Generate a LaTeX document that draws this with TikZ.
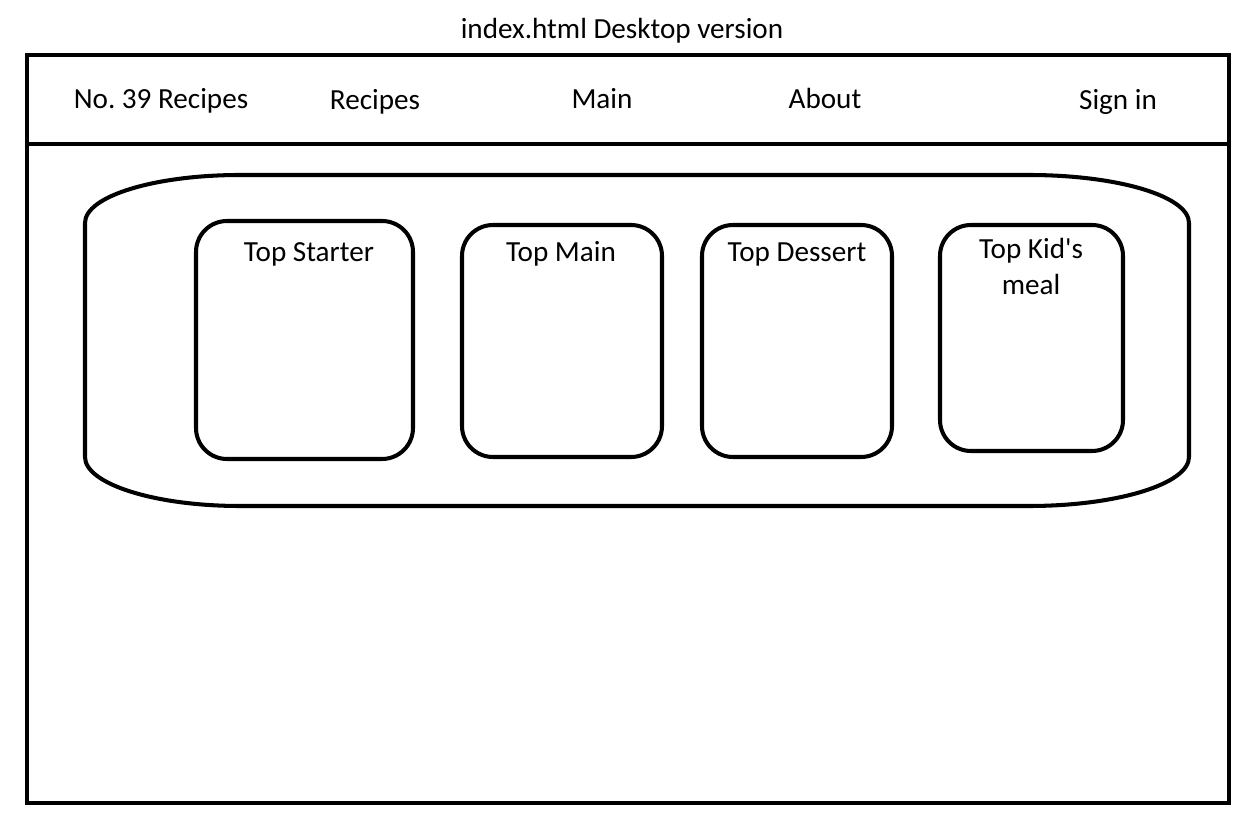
\documentclass[tikz,border=0pt]{standalone}
\usepackage{fontspec}
\setmainfont{Carlito}[Ligatures=TeXOff]
\frenchspacing
\tikzset{
  frame/.style={line width=2.3pt},
  card/.style={line width=2.3pt, rounded corners=0.62cm},
  txt/.style={font=\fontsize{16.6}{20.5}\selectfont, inner sep=0pt, align=center, anchor=base}
}
\begin{document}
\begin{tikzpicture}[x=0.02cm, y=-0.02cm]
  %%%%% page %%%%%
  \useasboundingbox (0, 0) rectangle (1245, 817);
  \node[txt] (title) at (622, 39) {index.html Desktop version};

  %%%%% header %%%%%
  \draw[frame] (27, 55) rectangle (1229, 803);
  \draw[frame] (27, 144) -- (1229, 144);
  \node[txt] (brand) at (161, 109) {No. 39 Recipes};
  \node[txt] (recipes) at (375, 110) {Recipes};
  \node[txt] (main) at (602, 109) {Main};
  \node[txt] (about) at (825, 109) {About};
  \node[txt] (signin) at (1118, 110) {Sign in};

  %%%%% carousel %%%%%
  \draw[frame] (85, 223) -- (85, 457)
    .. controls (85, 484) and (155, 506) .. (240, 506)
    -- (1029, 506)
    .. controls (1117, 506) and (1189, 484) .. (1189, 457)
    -- (1189, 223)
    .. controls (1189, 196) and (1117, 175) .. (1029, 175)
    -- (240, 175)
    .. controls (155, 175) and (85, 196) .. cycle;

  \draw[card] (196, 221) rectangle (413, 459);
  \draw[card] (462, 225) rectangle (662, 457);
  \draw[card] (702, 225) rectangle (892, 457);
  \draw[card] (940, 225) rectangle (1123, 451);

  \node[txt] (starter) at (309, 262) {Top Starter};
  \node[txt] (topmain) at (561, 262) {Top Main};
  \node[txt] (dessert) at (797, 262) {Top Dessert};
  \node[txt] (kids) at (1031, 295) {Top Kid's\\meal};
\end{tikzpicture}
\end{document}
